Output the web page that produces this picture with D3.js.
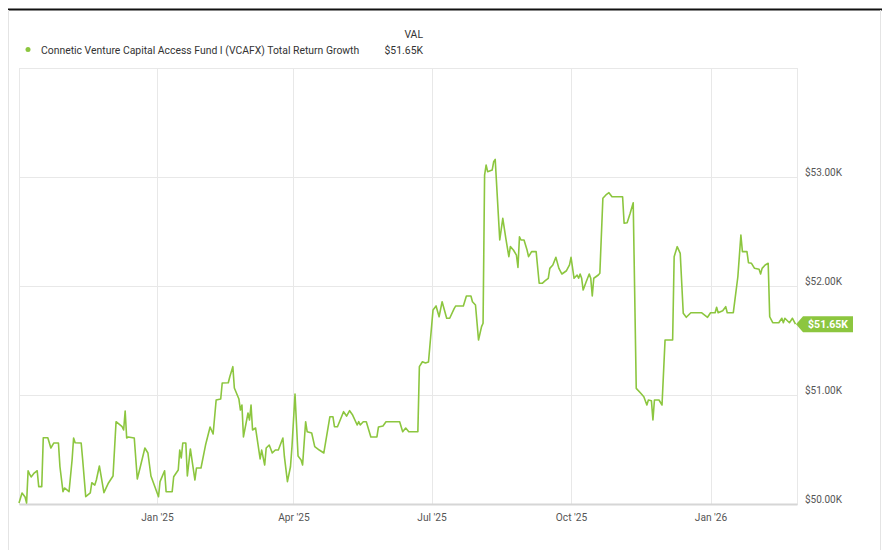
<!DOCTYPE html>
<html>
<head>
<meta charset="utf-8">
<script src="https://cdn.jsdelivr.net/npm/d3@7"></script>
<style>
  html, body { margin: 0; padding: 0; background: #fff; }
  svg { display: block; font-family: Roboto, "Liberation Sans", sans-serif; }
</style>
</head>
<body>
<svg id="chart" width="882" height="550"></svg>
<script>
const seriesName = "Connetic Venture Capital Access Fund I (VCAFX) Total Return Growth";
const lastLabel = "$51.65K";
const dates = [
"2024-10-02","2024-10-04","2024-10-06","2024-10-07","2024-10-08","2024-10-09","2024-10-10","2024-10-12","2024-10-14","2024-10-15",
"2024-10-17","2024-10-18","2024-10-21","2024-10-23","2024-10-25","2024-10-28","2024-10-29","2024-10-31","2024-11-01","2024-11-04",
"2024-11-06","2024-11-07","2024-11-08","2024-11-12","2024-11-13","2024-11-15","2024-11-18","2024-11-19","2024-11-21","2024-11-22",
"2024-11-24","2024-11-27","2024-11-30","2024-12-03","2024-12-05","2024-12-09","2024-12-10","2024-12-11","2024-12-12","2024-12-13",
"2024-12-17","2024-12-19","2024-12-21","2024-12-24","2024-12-26","2024-12-28","2025-01-02","2025-01-03","2025-01-06","2025-01-07",
"2025-01-11","2025-01-12","2025-01-15","2025-01-16","2025-01-17","2025-01-18","2025-01-20","2025-01-21","2025-01-23","2025-01-26",
"2025-01-27","2025-01-30","2025-02-02","2025-02-05","2025-02-07","2025-02-09","2025-02-12","2025-02-13","2025-02-17","2025-02-18",
"2025-02-20","2025-02-21","2025-02-24","2025-02-25","2025-02-26","2025-02-27","2025-03-02","2025-03-03","2025-03-04","2025-03-05",
"2025-03-07","2025-03-10","2025-03-11","2025-03-13","2025-03-14","2025-03-16","2025-03-18","2025-03-20","2025-03-22","2025-03-25",
"2025-03-26","2025-03-28","2025-03-30","2025-03-31","2025-04-02","2025-04-04","2025-04-06","2025-04-07","2025-04-09","2025-04-10",
"2025-04-13","2025-04-15","2025-04-18","2025-04-21","2025-04-25","2025-04-27","2025-04-28","2025-04-30","2025-05-04","2025-05-06",
"2025-05-08","2025-05-10","2025-05-13","2025-05-14","2025-05-15","2025-05-17","2025-05-19","2025-05-22","2025-05-26","2025-05-27",
"2025-05-30","2025-06-01","2025-06-10","2025-06-12","2025-06-14","2025-06-16","2025-06-22","2025-06-23","2025-06-25","2025-06-27",
"2025-06-29","2025-07-02","2025-07-04","2025-07-06","2025-07-08","2025-07-11","2025-07-13","2025-07-16","2025-07-17","2025-07-22",
"2025-07-24","2025-07-27","2025-07-28","2025-07-30","2025-08-01","2025-08-03","2025-08-04","2025-08-05","2025-08-06","2025-08-07",
"2025-08-10","2025-08-11","2025-08-12","2025-08-15","2025-08-17","2025-08-19","2025-08-21","2025-08-22","2025-08-24","2025-08-26",
"2025-08-27","2025-08-28","2025-08-29","2025-08-31","2025-09-02","2025-09-03","2025-09-05","2025-09-08","2025-09-10","2025-09-12",
"2025-09-14","2025-09-16","2025-09-17","2025-09-19","2025-09-21","2025-09-23","2025-09-25","2025-09-28","2025-09-30","2025-10-01",
"2025-10-03","2025-10-05","2025-10-06","2025-10-07","2025-10-08","2025-10-09","2025-10-11","2025-10-13","2025-10-14","2025-10-15",
"2025-10-16","2025-10-19","2025-10-20","2025-10-22","2025-10-24","2025-10-26","2025-10-28","2025-11-04","2025-11-05","2025-11-07",
"2025-11-09","2025-11-11","2025-11-13","2025-11-16","2025-11-18","2025-11-20","2025-11-21","2025-11-23","2025-11-24","2025-11-25",
"2025-11-28","2025-11-30","2025-12-02","2025-12-07","2025-12-08","2025-12-10","2025-12-12","2025-12-14","2025-12-16","2025-12-19",
"2025-12-26","2025-12-30","2026-01-01","2026-01-04","2026-01-05","2026-01-06","2026-01-09","2026-01-11","2026-01-12","2026-01-16",
"2026-01-19","2026-01-21","2026-01-22","2026-01-25","2026-01-26","2026-01-28","2026-01-30","2026-02-02","2026-02-03","2026-02-04",
"2026-02-06","2026-02-08","2026-02-09","2026-02-11","2026-02-15","2026-02-17","2026-02-18","2026-02-19","2026-02-22","2026-02-24",
"2026-02-26"
];
const values = [
50009,50101,50064,50009,50305,50275,50248,50284,50305,50159,
50159,50608,50608,50514,50560,50560,50342,50113,50147,50113,
50404,50605,50562,50560,50404,50067,50101,50195,50174,50220,
50349,50104,50193,50257,50755,50709,50679,50853,50605,50615,
50605,50229,50342,50514,50468,50257,50067,50205,50305,50113,
50113,50250,50312,50495,50422,50560,50560,50257,50505,50220,
50330,50330,50541,50706,50642,50954,50963,51110,51113,51168,
51260,51064,50963,50862,50908,50615,50835,50771,50908,50679,
50697,50413,50495,50358,50514,50541,50468,50495,50495,50605,
50434,50205,50342,50526,51009,50440,50404,50358,50755,50663,
50651,50526,50495,50468,50801,50801,50709,50709,50847,50807,
50856,50816,50725,50755,50725,50755,50755,50615,50615,50706,
50716,50755,50755,50663,50697,50663,50663,51260,51305,51294,
51303,51780,51817,51718,51856,51704,51704,51795,51817,51817,
51908,51908,51856,51826,51505,51627,51658,53018,53110,53049,
53064,53140,53162,52422,52621,52438,52269,52361,52330,52284,
52171,52452,52422,52422,52330,52269,52315,52315,52025,52025,
52049,52071,52162,52193,52263,52162,52110,52140,52193,52263,
52071,52101,52071,52110,52071,51963,52039,52110,52071,51908,
52071,52101,52117,52805,52835,52856,52819,52819,52575,52581,
52667,52764,51061,51016,50984,50908,50954,50948,50771,50954,
50954,50908,51505,51505,52269,52361,52300,51749,51713,51755,
51755,51713,51755,51755,51805,51755,51773,51810,51755,51755,
52085,52468,52315,52315,52214,52208,52162,52153,52110,52162,
52193,52208,51718,51663,51663,51704,51663,51704,51663,51704,
51650
];
const yTicks = [50000, 51000, 52000, 53000];
const xTickDates = ["2025-01-01","2025-04-01","2025-07-01","2025-10-01","2026-01-01"];
const xTickLabels = ["Jan '25","Apr '25","Jul '25","Oct '25","Jan '26"];
const xDomain = ["2024-10-02","2026-02-27"];
const yDomain = [50000, 54000];

const parse = d3.timeParse("%Y-%m-%d");
const data = dates.map((d, i) => ({ date: parse(d), value: values[i] }));

const svg = d3.select("#chart");
const W = 882, H = 550;
const plot = { left: 19, right: 797, top: 68, bottom: 504 };
const green = "#8cc63f";

const x = d3.scaleTime().domain(xDomain.map(parse)).range([plot.left, plot.right]);
const y = d3.scaleLinear().domain(yDomain).range([plot.bottom, plot.top]);

// outer frame
svg.append("line").attr("x1", 8).attr("x2", W).attr("y1", 9.5).attr("y2", 9.5)
  .attr("stroke", "#111").attr("stroke-width", 2);
svg.append("line").attr("x1", 8.5).attr("x2", 8.5).attr("y1", 10).attr("y2", H)
  .attr("stroke", "#e4e4e4").attr("stroke-width", 1);
svg.append("line").attr("x1", 880.5).attr("x2", 880.5).attr("y1", 10).attr("y2", H)
  .attr("stroke", "#e4e4e4").attr("stroke-width", 1);

// plot border
svg.append("rect").attr("x", plot.left + 0.5).attr("y", plot.top + 0.5)
  .attr("width", plot.right - plot.left).attr("height", plot.bottom - plot.top)
  .attr("fill", "none").attr("stroke", "#e8e8e8");

// grid
const gx = svg.append("g").attr("class", "xgrid");
gx.selectAll("line").data(xTickDates.map(parse)).join("line")
  .attr("x1", d => Math.round(x(d)) + 0.5).attr("x2", d => Math.round(x(d)) + 0.5)
  .attr("y1", plot.top).attr("y2", plot.bottom)
  .attr("stroke", "#e8e8e8");
const gy = svg.append("g").attr("class", "ygrid");
gy.selectAll("line").data(yTicks.slice(1)).join("line")
  .attr("x1", plot.left).attr("x2", plot.right)
  .attr("y1", d => Math.round(y(d)) + 0.5).attr("y2", d => Math.round(y(d)) + 0.5)
  .attr("stroke", "#e8e8e8");

// x axis
const xAxis = d3.axisBottom(x)
  .tickValues(xTickDates.map(parse))
  .tickFormat((d, i) => xTickLabels[i])
  .tickSize(0).tickPadding(10);
const xg = svg.append("g").attr("transform", `translate(0,${plot.bottom})`).call(xAxis);
xg.select(".domain").attr("stroke", "#d6d6d6").attr("stroke-width", 2);
xg.selectAll("text").attr("fill", "#555").attr("font-size", "10.2px")
  .attr("font-family", "Roboto, sans-serif");

// y axis (right)
const yAxis = d3.axisRight(y).tickValues(yTicks)
  .tickFormat(d => "$" + d3.format(".2f")(d / 1000) + "K")
  .tickSize(0).tickPadding(8);
const yg = svg.append("g").attr("transform", `translate(${plot.right},0)`).call(yAxis);
yg.select(".domain").remove();
yg.selectAll("text").attr("fill", "#555").attr("font-size", "10px")
  .attr("font-family", "Roboto, sans-serif").attr("dy", "-0.15em");

// line
const line = d3.line().x(d => x(d.date)).y(d => y(d.value));
svg.append("path").datum(data).attr("d", line)
  .attr("fill", "none").attr("stroke", green).attr("stroke-width", 1.6)
  .attr("stroke-linejoin", "round");

// last value label
const last = data[data.length - 1];
const ly = y(last.value);
const lx = plot.right - 1;
const lbl = svg.append("g");
lbl.append("path")
  .attr("d", `M${lx},${ly} L${lx + 7},${ly - 8} L${lx + 57},${ly - 8} L${lx + 57},${ly + 8} L${lx + 7},${ly + 8} Z`)
  .attr("fill", green);
lbl.append("text").attr("x", lx + 32).attr("y", ly).attr("dy", "0.36em")
  .attr("text-anchor", "middle").attr("fill", "#fff")
  .attr("font-size", "10.5px").attr("font-weight", "bold").text(lastLabel);

// legend
svg.append("circle").attr("cx", 28).attr("cy", 49.5).attr("r", 2.5).attr("fill", green);
svg.append("text").attr("x", 41).attr("y", 53.5).attr("fill", "#333")
  .attr("font-size", "10.4px").text(seriesName);
svg.append("text").attr("x", 423).attr("y", 38).attr("text-anchor", "end")
  .attr("fill", "#333").attr("font-size", "10.4px").text("VAL");
svg.append("text").attr("x", 423).attr("y", 53.5).attr("text-anchor", "end")
  .attr("fill", "#333").attr("font-size", "10.4px").text(lastLabel);
</script>
</body>
</html>
